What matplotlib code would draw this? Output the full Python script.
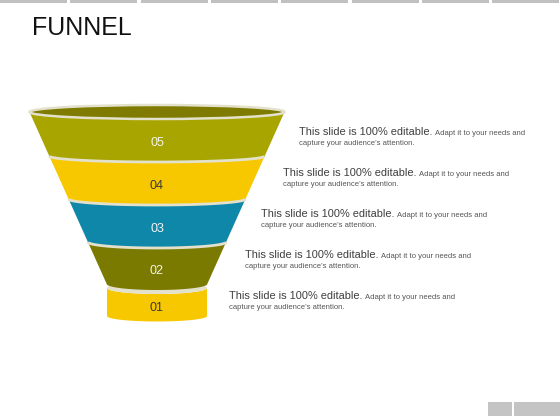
import numpy as np
import matplotlib
matplotlib.use("Agg")
import matplotlib.pyplot as plt
from matplotlib.patches import Polygon, Ellipse, Rectangle

# ---------------- data ----------------
STAGES = ["05", "04", "03", "02", "01"]
STAGE_COLORS = ["#a8a400", "#f7c800", "#0f87a8", "#7a7a00", "#f7c800"]
LABEL_COLORS = ["#f4f4e8", "#3a3a3a", "#f4f4f4", "#f4f4e8", "#3a3a3a"]
HEADLINES = ["This slide is 100% editable."] * 5
BODY_LINE1 = ["Adapt it to your needs and"] * 5
BODY_LINE2 = ["capture your audience\u2019s attention."] * 5
TITLE = "FUNNEL"

# ---------------- layout ----------------
FONT = ["Liberation Sans", "DejaVu Sans"]
W, H = 560, 420
CX = 157.0
CONE_TOP_Y, CONE_TOP_A, SHRINK = 112.0, 127.5, 0.449
TOP_B = 7.0
RING_B = 6.0
CONE_BOUNDS = [112, 156, 199, 242, 284]   # ellipse-centre y of each cone ring
CYL_TOP, CYL_BOT, CYL_A = 288, 316, 50.0
CYL_TOP_B, CYL_BOT_B = 6.0, 5.5
RIM = "#e3e1cb"
TEXT_X = [299, 283, 261, 245, 229]
TEXT_Y = [135, 176, 217, 258, 299]        # baselines of headline

fig = plt.figure(figsize=(W / 100, H / 100), dpi=100)
ax = fig.add_axes([0, 0, 1, 1])
ax.set_xlim(0, W)
ax.set_ylim(H, 0)
ax.axis("off")


def half_a(y):
    return CONE_TOP_A - SHRINK * (y - CONE_TOP_Y)


def ring_b(y):
    return TOP_B if y == CONE_TOP_Y else RING_B


def front_arc(y, a, b, reverse=False):
    th = np.linspace(np.pi, 0, 60)
    if reverse:
        th = th[::-1]
    return np.column_stack([CX + a * np.cos(th), y + b * np.sin(th)])


# top decorative bars
for i in range(8):
    x0 = i * 70.3
    ax.add_patch(Rectangle((x0, 0), 67, 3, color="#c0c0c0", lw=0))
# bottom-right boxes
ax.add_patch(Rectangle((488, 402), 24, 14, color="#c4c4c4", lw=0))
ax.add_patch(Rectangle((514, 402), 46, 14, color="#c4c4c4", lw=0))

ax.text(32, 35, TITLE, fontsize=18, family=FONT, color="#111111",
        ha="left", va="baseline")

# cylinder (stage 01)
body = np.vstack([front_arc(CYL_TOP, CYL_A, CYL_TOP_B),
                  front_arc(CYL_BOT, CYL_A, CYL_BOT_B, reverse=True)])
ax.add_patch(Polygon(body, closed=True, fc=STAGE_COLORS[4], ec="none", zorder=1))
ax.add_patch(Ellipse((CX, CYL_TOP), 2 * CYL_A, 2 * CYL_TOP_B, fc=RIM,
                     ec="none", zorder=1.5))

# cone bands
for i in range(4):
    yt, yb = CONE_BOUNDS[i], CONE_BOUNDS[i + 1]
    at, ab = half_a(yt), half_a(yb)
    poly = np.vstack([front_arc(yt, at, ring_b(yt)),
                      front_arc(yb, ab, ring_b(yb), reverse=True)])
    ax.add_patch(Polygon(poly, closed=True, fc=STAGE_COLORS[i], ec="none", zorder=2))

# separators
for y in CONE_BOUNDS[1:4]:
    arc = front_arc(y, half_a(y), ring_b(y))
    ax.plot(arc[:, 0], arc[:, 1], color=RIM, lw=2.0, zorder=3,
            solid_capstyle="butt")

# top opening
ax.add_patch(Ellipse((CX, CONE_TOP_Y), 2 * CONE_TOP_A, 2 * TOP_B,
                     fc="#7e7b00", ec=RIM, lw=1.8, zorder=4))

# stage labels
label_y = []
for i in range(4):
    yt, yb = CONE_BOUNDS[i], CONE_BOUNDS[i + 1]
    label_y.append((yt + ring_b(yt) + yb + ring_b(yb)) / 2 + 2.5)
label_y.append((CYL_TOP + CYL_TOP_B + CYL_BOT + CYL_BOT_B) / 2 + 0.5)
for s, c, y in zip(STAGES, LABEL_COLORS, label_y):
    ax.text(CX, y, s, fontsize=9, family=FONT, color=c, ha="center",
            va="center", zorder=5)

# descriptive text
fig.canvas.draw()
renderer = fig.canvas.get_renderer()
inv = ax.transData.inverted()
for i in range(5):
    x, y = TEXT_X[i], TEXT_Y[i]
    t1 = ax.text(x, y, HEADLINES[i], fontsize=7.9, family=FONT,
                 color="#3f3f3f", ha="left", va="baseline")
    bb = t1.get_window_extent(renderer)
    xend = inv.transform((bb.x1, bb.y0))[0]
    ax.text(xend + 2.5, y, BODY_LINE1[i], fontsize=5.5, family=FONT,
            color="#555555", ha="left", va="baseline")
    ax.text(x, y + 10, BODY_LINE2[i], fontsize=5.5, family=FONT,
            color="#555555", ha="left", va="baseline")

fig.savefig("out.png", dpi=100, facecolor="white")
